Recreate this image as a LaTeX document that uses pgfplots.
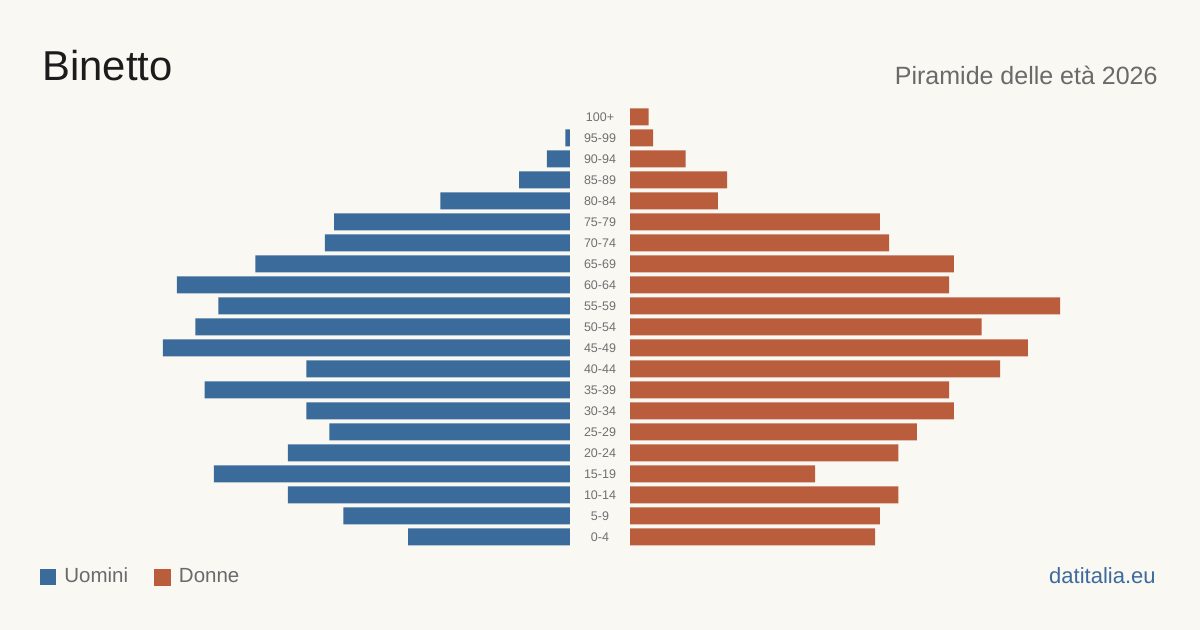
\documentclass[border=0pt]{standalone}
\usepackage{fontspec}
\setmainfont{Liberation Sans}
\usepackage{pgfplots}
\pgfplotsset{compat=1.18}

\definecolor{bgc}{HTML}{FAF8F3}
\definecolor{men}{HTML}{3B6B9B}
\definecolor{women}{HTML}{BA5D3D}
\definecolor{titlec}{HTML}{1C1C1C}
\definecolor{graytext}{HTML}{6A6A6A}
\definecolor{agegray}{HTML}{707070}
\definecolor{linkblue}{HTML}{3D6B9C}

% residents by age class (0-4 first, 100+ last)
\pgfplotsset{
  pyr/.style={
    scale only axis,
    width=231.25pt, height=220.5pt,
    xmin=0, xmax=100,
    ymin=-0.5, ymax=20.5,
    axis line style={draw=none},
    tick style={draw=none},
    major tick length=0pt,
    xtick=\empty,
    clip=false,
  },
  pbar/.style={xbar, draw=none, bar width=8.5pt, bar shift=0pt},
}

\begin{document}
\begin{tikzpicture}[x=0.5pt,y=0.5pt]
\fill[bgc] (0,0) rectangle (1200,630);

\node[anchor=base west, inner sep=0pt, text=titlec, font=\fontsize{20.9pt}{25pt}\selectfont] at (42,549.3) {Binetto};
\node[anchor=base east, inner sep=0pt, text=graytext, font=\fontsize{12.5pt}{15pt}\selectfont] at (1158,545.7) {Piramide delle età 2026};
\node[anchor=base east, inner sep=0pt, text=linkblue, font=\fontsize{11pt}{13pt}\selectfont] at (1156,46.7) {datitalia.eu};

% men, growing to the left
\begin{axis}[pyr, at={(285pt,261.75pt)}, anchor=north east, x dir=reverse, ytick=\empty,
  legend style={draw=none, fill=none, at={(axis description cs:-0.146,-0.0669)}, anchor=west,
    legend columns=2, inner sep=0pt, nodes={inner sep=0pt},
    font=\fontsize{10.25pt}{12pt}\selectfont, text=graytext,
    /tikz/every odd column/.append style={column sep=4pt},
    /tikz/every even column/.append style={column sep=13pt}},
  legend image code/.code={\fill[#1] (0pt,-4pt) rectangle (8pt,4pt);}]
\addplot[pbar, fill=men] coordinates {
  (35,0) (49,1) (61,2) (77,3) (61,4) (52,5) (57,6) (79,7) (57,8) (88,9)
  (81,10) (76,11) (85,12) (68,13) (53,14) (51,15) (28,16) (11,17) (5,18) (1,19)};
\addlegendentry{Uomini}
\addlegendimage{women}
\addlegendentry{Donne}
\end{axis}

% women, growing to the right
\begin{axis}[pyr, at={(315pt,261.75pt)}, anchor=north west,
  ytick={0,...,20},
  yticklabels={0-4,5-9,10-14,15-19,20-24,25-29,30-34,35-39,40-44,45-49,50-54,55-59,60-64,65-69,70-74,75-79,80-84,85-89,90-94,95-99,100+},
  yticklabel style={anchor=center, xshift=-15pt, text=agegray, font=\fontsize{6.25pt}{7pt}\selectfont}]
\addplot[pbar, fill=women] coordinates {
  (53,0) (54,1) (58,2) (40,3) (58,4) (62,5) (70,6) (69,7) (80,8) (86,9)
  (76,10) (93,11) (69,12) (70,13) (56,14) (54,15) (19,16) (21,17) (12,18) (5,19) (4,20)};
\end{axis}
\end{tikzpicture}
\end{document}
